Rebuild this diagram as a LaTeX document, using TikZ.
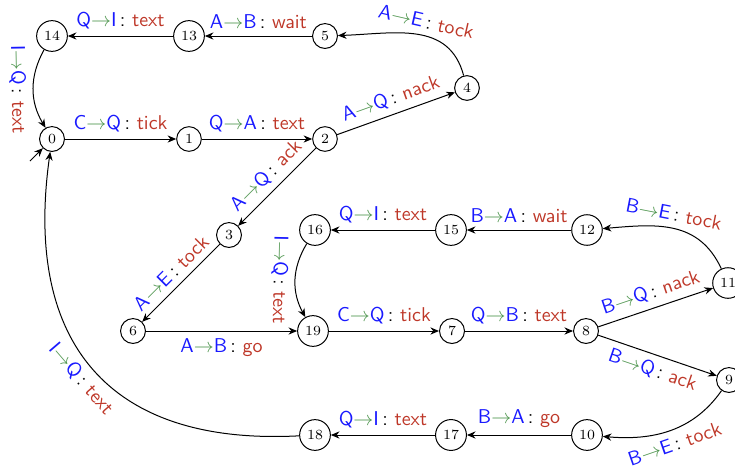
\documentclass[tikz,border=0pt]{standalone}
\usetikzlibrary{arrows.meta}
\definecolor{cblue}{RGB}{25,25,255}
\definecolor{cgreen}{RGB}{80,150,80}
\definecolor{cred}{RGB}{190,55,40}
\newcommand{\lab}[3]{\textcolor{cblue}{#1}\textcolor{cgreen}{$\rightarrow$}\textcolor{cblue}{#2}\,:\ \textcolor{cred}{#3}}
\tikzset{
  state/.style={circle, draw, line width=0.5pt, inner sep=2.2pt, font=\scriptsize},
  edge/.style={-{Stealth[length=4.3pt,width=3.6pt]}, line width=0.5pt},
  every node/.append style={font=\sffamily}
}
\begin{document}
\begin{tikzpicture}[x=0.5pt,y=0.5pt]
\useasboundingbox (0,0) rectangle (735,-472);
\node[state] (n0) at (52,-139) {0};
\node[state] (n1) at (189,-139) {1};
\node[state] (n2) at (325,-139) {2};
\node[state] (n3) at (229,-235) {3};
\node[state] (n4) at (467,-88) {4};
\node[state] (n5) at (325,-36) {5};
\node[state] (n13) at (189,-36) {13};
\node[state] (n14) at (52,-36) {14};
\node[state] (n6) at (133,-331) {6};
\node[state] (n19) at (313,-331) {19};
\node[state] (n7) at (452,-331) {7};
\node[state] (n8) at (586,-331) {8};
\node[state] (n16) at (315,-230) {16};
\node[state] (n15) at (451,-230) {15};
\node[state] (n12) at (587,-230) {12};
\node[state] (n11) at (728,-283) {11};
\node[state] (n9) at (729,-380) {9};
\node[state] (n10) at (587,-435) {10};
\node[state] (n17) at (451,-435) {17};
\node[state] (n18) at (315,-435) {18};
\coordinate (i0) at (30,-161);

\draw[edge] (i0) -- (n0);
\draw[edge] (n0) -- node[above]{\lab{C}{Q}{tick}} (n1);
\draw[edge] (n1) -- node[above]{\lab{Q}{A}{text}} (n2);
\draw[edge] (n2) -- node[above,sloped]{\lab{A}{Q}{nack}} (n4);
\draw[edge] (n4) to[out=105,in=2,looseness=1.1] node[above,sloped,pos=0.45]{\lab{A}{E}{tock}} (n5);
\draw[edge] (n5) -- node[above]{\lab{A}{B}{wait}} (n13);
\draw[edge] (n13) -- node[above]{\lab{Q}{I}{text}} (n14);
\draw[edge] (n14) to[bend right=30] node[below,sloped,allow upside down]{\lab{I}{Q}{text}} (n0);
\draw[edge] (n2) -- node[above,sloped]{\lab{A}{Q}{ack}} (n3);
\draw[edge] (n3) -- node[above,sloped]{\lab{A}{E}{tock}} (n6);
\draw[edge] (n6) -- node[below]{\lab{A}{B}{go}} (n19);
\draw[edge] (n16) to[bend right=30] node[below,sloped,allow upside down]{\lab{I}{Q}{text}} (n19);
\draw[edge] (n19) -- node[above]{\lab{C}{Q}{tick}} (n7);
\draw[edge] (n7) -- node[above]{\lab{Q}{B}{text}} (n8);
\draw[edge] (n8) -- node[above,sloped]{\lab{B}{Q}{nack}} (n11);
\draw[edge] (n8) -- node[below,sloped]{\lab{B}{Q}{ack}} (n9);
\draw[edge] (n11) to[out=115,in=5,looseness=1.1] node[above,sloped,pos=0.52]{\lab{B}{E}{tock}} (n12);
\draw[edge] (n12) -- node[above]{\lab{B}{A}{wait}} (n15);
\draw[edge] (n15) -- node[above]{\lab{Q}{I}{text}} (n16);
\draw[edge] (n9) to[out=235,in=-5] node[below,sloped]{\lab{B}{E}{tock}} (n10);
\draw[edge] (n10) -- node[above]{\lab{B}{A}{go}} (n17);
\draw[edge] (n17) -- node[above]{\lab{Q}{I}{text}} (n18);
\draw[edge] (n18) to[out=183,in=262,looseness=1.3] node[below,sloped,pos=0.5]{\lab{I}{Q}{text}} (n0);
\end{tikzpicture}
\end{document}
